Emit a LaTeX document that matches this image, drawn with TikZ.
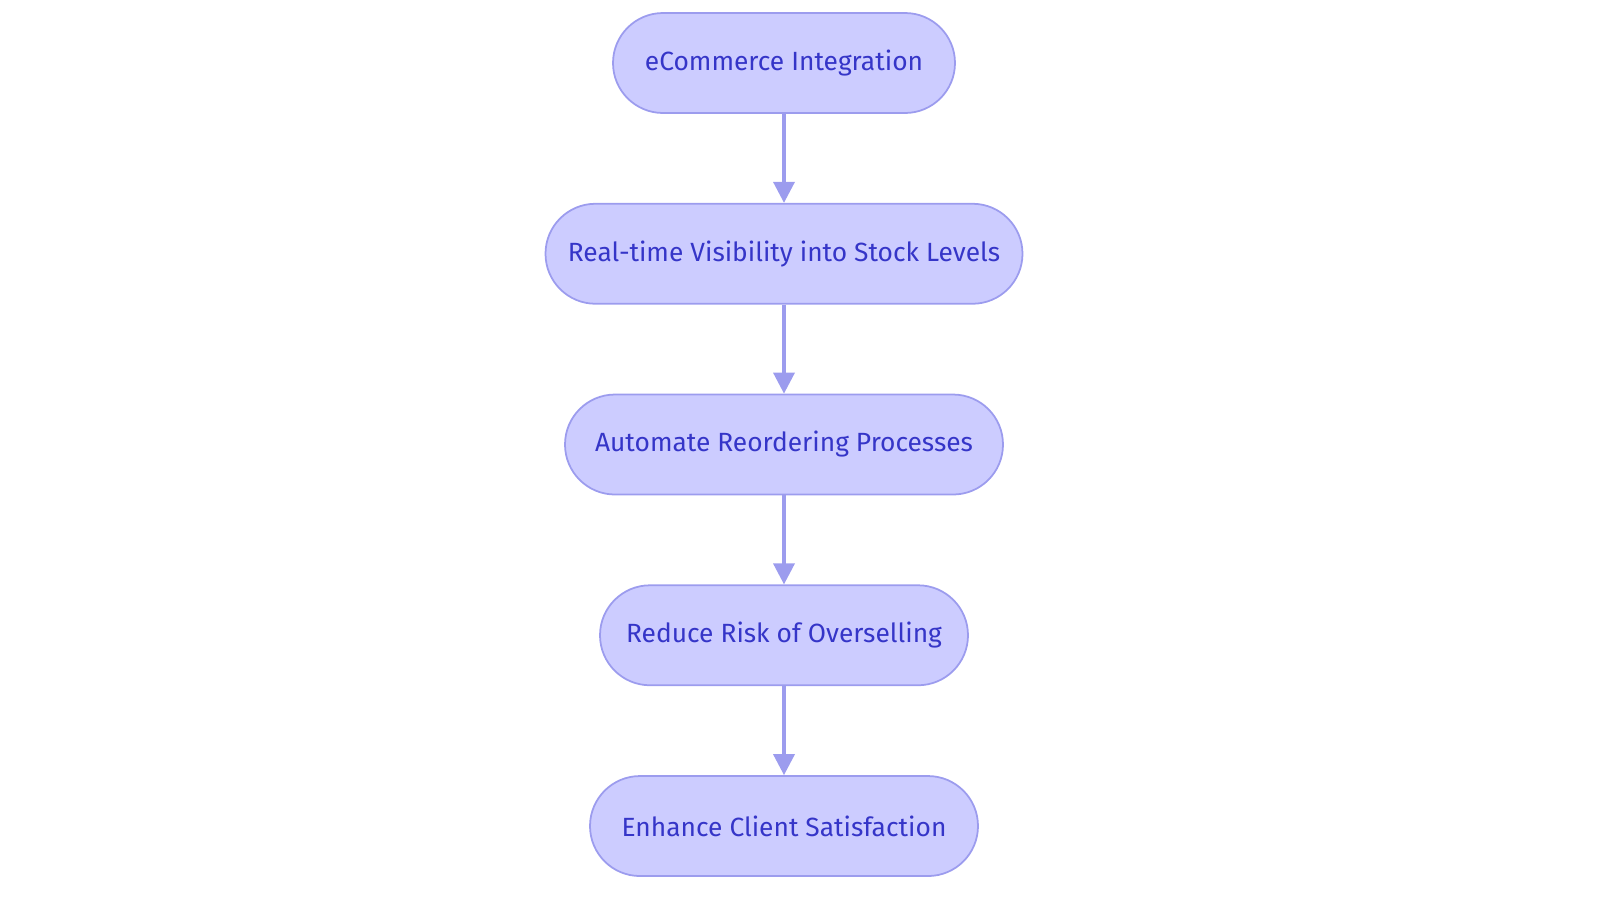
\documentclass[tikz,border=0pt]{standalone}
\usepackage{fontspec}
\setmainfont{Fira Sans}
\usetikzlibrary{positioning,arrows.meta}
\definecolor{boxfill}{HTML}{CCCCFF}
\definecolor{boxline}{HTML}{9C9CEE}
\definecolor{boxtext}{HTML}{3535C8}
\tikzset{
  stepbox/.style={draw=boxline,fill=boxfill,text=boxtext,rounded corners=1cm,
    minimum height=2cm,line width=1pt,font=\fontsize{15}{18}\selectfont},
  flow/.style={draw=boxline,line width=2pt,-{Triangle[length=0.42cm,width=0.42cm]}}
}
\begin{document}
\begin{tikzpicture}[node distance=1.78cm]
        \useasboundingbox (0,0) rectangle (32,-18.06);
        \node[stepbox,minimum width=6.84cm] (ecom) at (15.68,-1.26) {eCommerce Integration};
        \node[stepbox,minimum width=9.54cm,below=of ecom] (vis) {Real-time Visibility into Stock Levels};
        \node[stepbox,minimum width=8.76cm,below=of vis] (auto) {Automate Reordering Processes};
        \node[stepbox,minimum width=7.36cm,below=of auto] (risk) {Reduce Risk of Overselling};
        \node[stepbox,minimum width=7.76cm,below=of risk] (sat) {Enhance Client Satisfaction};
        \draw[flow] (ecom) -- (vis);
        \draw[flow] (vis) -- (auto);
        \draw[flow] (auto) -- (risk);
        \draw[flow] (risk) -- (sat);
    \end{tikzpicture}
\end{document}
